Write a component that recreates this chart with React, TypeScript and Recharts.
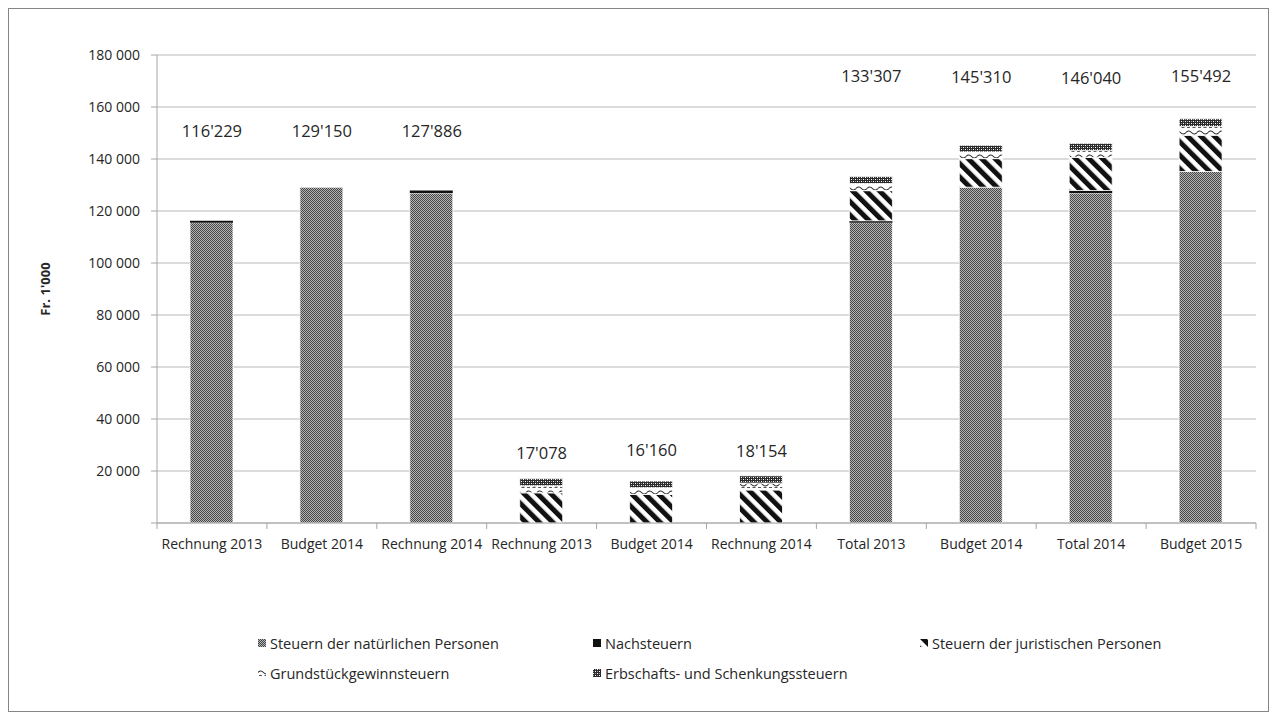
import React from 'react';
import { ComposedChart, Bar, Line, XAxis, YAxis, CartesianGrid, LabelList } from 'recharts';

const categories = [
  'Rechnung 2013', 'Budget 2014', 'Rechnung 2014',
  'Rechnung 2013', 'Budget 2014', 'Rechnung 2014',
  'Total 2013', 'Budget 2014', 'Total 2014', 'Budget 2015',
];
const natuerlichePersonen = [115500, 129150, 126886, 0, 0, 0, 115500, 129150, 126886, 135200];
const nachsteuern = [729, 0, 1000, 0, 0, 0, 729, 0, 1000, 0];
const juristischePersonen = [0, 0, 0, 11600, 11000, 12700, 11600, 11000, 12700, 13900];
const grundstueckgewinn = [0, 0, 0, 2700, 2560, 2650, 2700, 2560, 2650, 3400];
const erbschaft = [0, 0, 0, 2778, 2600, 2804, 2778, 2600, 2804, 2992];
const totalLabels = ["116'229", "129'150", "127'886", "17'078", "16'160", "18'154", "133'307", "145'310", "146'040", "155'492"];
// vertical level (in axis units) where the manually placed total labels sit
const labelLevels = [150800, 151100, 151100, 27300, 28100, 27700, 172300, 171900, 171500, 172300];
const yTicks = [0, 20000, 40000, 60000, 80000, 100000, 120000, 140000, 160000, 180000];

const seriesNames = [
  'Steuern der natürlichen Personen',
  'Nachsteuern',
  'Steuern der juristischen Personen',
  'Grundstückgewinnsteuern',
  'Erbschafts- und Schenkungssteuern',
];
const seriesKeys = ['nat', 'nach', 'jur', 'grund', 'erb'];
const seriesFills = ['url(#pNat)', '#111', 'url(#pJur)', 'url(#pGrund)', 'url(#pErb)'];

const data = categories.map((name, i) => ({
  name,
  nat: natuerlichePersonen[i],
  nach: nachsteuern[i],
  jur: juristischePersonen[i],
  grund: grundstueckgewinn[i],
  erb: erbschaft[i],
  total: totalLabels[i],
  labelLevel: labelLevels[i],
}));

const CHART_W = 1259;
const CHART_H = 702;
const MARGIN = { top: 46, right: 12, left: 0, bottom: 158 };
const Y_W = 148;
const PLOT_W = CHART_W - MARGIN.left - MARGIN.right - Y_W;
const HALF_BAND = PLOT_W / categories.length / 2;
const FONT = '"Open Sans", sans-serif';
const TEXT = '#262626';
const AXIS = '#a6a6a6';

const fmtY = (v: number) => (v === 0 ? '' : String(v).replace(/\B(?=(\d{3})+(?!\d))/g, ' '));

const XTick = (props: any) => {
  const { x, y, payload, index } = props;
  return (
    <g>
      <line x1={x - HALF_BAND} x2={x - HALF_BAND} y1={y} y2={y + 6} stroke={AXIS} />
      {index === categories.length - 1 && (
        <line x1={x + HALF_BAND} x2={x + HALF_BAND} y1={y} y2={y + 6} stroke={AXIS} />
      )}
      <text x={x} y={y + 20} textAnchor="middle" dominantBaseline="central" fontSize={14} fill={TEXT} fontFamily={FONT}>
        {payload.value}
      </text>
    </g>
  );
};

const TotalLabel = (props: any) => {
  const { x, y, value } = props;
  return (
    <text x={x} y={y} textAnchor="middle" dominantBaseline="central" fontSize={16.5} fill={TEXT} fontFamily={FONT}>
      {value}
    </text>
  );
};

const Patterns = () => (
  <svg width={0} height={0} style={{ position: 'absolute' }}>
    <defs>
      <pattern id="pNat" width="2" height="2" patternUnits="userSpaceOnUse">
        <rect width="2" height="2" fill="#b4b4b4" />
        <rect width="1" height="1" fill="#474747" />
        <rect x="1" y="1" width="1" height="1" fill="#474747" />
      </pattern>
      <pattern id="pJur" width="9.5" height="9.5" patternUnits="userSpaceOnUse" patternTransform="rotate(-45)">
        <rect width="9.5" height="9.5" fill="#fff" />
        <rect width="5" height="9.5" fill="#111" />
      </pattern>
      <pattern id="pGrund" width="11" height="8" patternUnits="userSpaceOnUse">
        <rect width="11" height="8" fill="#fff" />
        <path d="M0 3.5 Q2.75 0.5 5.5 3.5 T11 3.5" stroke="#222" strokeWidth="1.1" fill="none" />
        <line x1="1" x2="4" y1="6.5" y2="6.5" stroke="#555" strokeWidth="1" />
        <line x1="6.5" x2="9.5" y1="6.5" y2="6.5" stroke="#555" strokeWidth="1" />
      </pattern>
      <pattern id="pErb" width="4" height="4" patternUnits="userSpaceOnUse">
        <rect width="4" height="4" fill="#2a2a2a" />
        <rect x="0" y="0" width="1" height="1" fill="#fff" />
        <rect x="2" y="2" width="1" height="1" fill="#fff" />
        <rect x="2" y="0" width="1" height="1" fill="#999" />
        <rect x="0" y="2" width="1" height="1" fill="#999" />
      </pattern>
    </defs>
  </svg>
);

const legendPos = [
  { left: 249, top: 625 },
  { left: 584, top: 625 },
  { left: 911, top: 625 },
  { left: 249, top: 655 },
  { left: 584, top: 655 },
];

export default function App() {
  return (
    <div
      style={{
        position: 'relative',
        width: 1261,
        height: 704,
        border: '1px solid #868686',
        boxSizing: 'border-box',
        background: '#fff',
        fontFamily: FONT,
      }}
    >
      <Patterns />
      <ComposedChart width={CHART_W} height={CHART_H} data={data} margin={MARGIN}>
        <CartesianGrid vertical={false} stroke="#b8b8b8" />
        <XAxis
          dataKey="name"
          interval={0}
          height={30}
          tickSize={0}
          tickMargin={0}
          tickLine={false}
          stroke={AXIS}
          tick={<XTick />}
        />
        <YAxis
          width={Y_W}
          domain={[0, 180000]}
          ticks={yTicks}
          interval={0}
          tickFormatter={fmtY}
          tickSize={6}
          tickMargin={11}
          stroke={AXIS}
          tick={{ fill: TEXT, fontSize: 14, fontFamily: FONT }}
          label={{
            content: (p: any) => {
              const vb = p.viewBox || { y: 46, height: 468 };
              const cy = vb.y + vb.height / 2;
              return (
                <text
                  x={36}
                  y={cy}
                  transform={`rotate(-90, 36, ${cy})`}
                  textAnchor="middle"
                  dominantBaseline="central"
                  fontSize={13}
                  fontWeight="bold"
                  fill={TEXT}
                  fontFamily={FONT}
                >
                  Fr. 1'000
                </text>
              );
            },
          }}
        />
        {seriesKeys.map((k, i) => (
          <Bar
            key={k}
            dataKey={k}
            name={seriesNames[i]}
            stackId="a"
            barSize={43}
            fill={seriesFills[i]}
            stroke={k === 'nach' ? 'none' : '#fff'}
            strokeWidth={0.8}
            isAnimationActive={false}
          />
        ))}
        <Line
          dataKey="labelLevel"
          stroke="none"
          dot={false}
          activeDot={false}
          legendType="none"
          isAnimationActive={false}
        >
          <LabelList dataKey="total" content={<TotalLabel />} />
        </Line>
      </ComposedChart>
      {seriesNames.map((n, i) => (
        <div
          key={n}
          style={{
            position: 'absolute',
            left: legendPos[i].left,
            top: legendPos[i].top,
            height: 18,
            display: 'flex',
            alignItems: 'center',
            fontSize: 14.5,
            color: TEXT,
            whiteSpace: 'nowrap',
          }}
        >
          <svg width={8} height={8} style={{ marginRight: 4 }}>
            <rect width={8} height={8} fill={seriesFills[i]} />
          </svg>
          {n}
        </div>
      ))}
    </div>
  );
}
